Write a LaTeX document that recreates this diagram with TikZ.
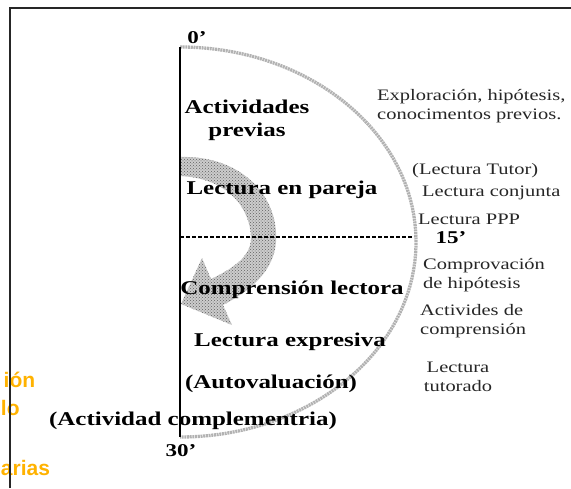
\documentclass[tikz,border=0pt]{standalone}
\usepackage{fontspec}
\setmainfont{Liberation Serif}[FakeStretch=1.28]
\newfontfamily\orfont{Liberation Sans}
\usetikzlibrary{patterns}
\definecolor{orng}{RGB}{255,178,0}
\begin{document}
\begin{tikzpicture}[x=1pt,y=-1pt,
  big/.style={font=\fontsize{19.5}{23}\selectfont\bfseries, inner sep=0pt, align=center},
  tick/.style={font=\fontsize{18}{20}\selectfont\bfseries, inner sep=0pt},
  note/.style={font=\fontsize{16}{18.5}\selectfont, inner sep=0pt, align=left, text=black!85},
  orng/.style={font=\orfont\fontsize{21}{24}\selectfont\bfseries, text=orng, inner sep=0pt, anchor=base west},
  arcline/.style={draw=gray!60, line width=3.3pt, dash pattern=on 2pt off 0.7pt},
  axis/.style={line width=1.6pt, black},
  frame/.style={line width=1.2pt, black!85}]
\useasboundingbox (0,0) rectangle (571,488);
% orange cut-off text
\node[orng] (o1) at (3.5,387) {ión};
\node[orng] (o2) at (0.8,415) {lo};
\node[orng] (o3) at (0.8,475) {arias};
% frame
\coordinate (fbl) at (10,488);
\coordinate (ftl) at (10,8);
\coordinate (ftr) at (571,8);
\draw[frame] (fbl) -- (ftl) -- (ftr);
% key coordinates
\coordinate (top) at (180,47);
\coordinate (bot) at (180,437);
\coordinate (mid) at (180,237);
\coordinate (midR) at (414,237);
% big arc
\draw[arcline] (top) arc[start angle=90, end angle=-90, x radius=236pt, y radius=195pt];
% curved arrow
\path[preaction={fill=gray!40}, pattern=crosshatch dots, pattern color=gray!75!black]
  (180,157) .. controls (240,155) and (279,195) .. (276,242)
  .. controls (274,270) and (252,290) .. (223,305)
  -- (232,325) -- (181,304) -- (202,258) -- (211,279)
  .. controls (234,268) and (251,256) .. (251,238)
  .. controls (250,205) and (225,178) .. (180,176) -- cycle;
% dotted 15' line
\draw[line width=2.2pt, dash pattern=on 4pt off 2pt] (mid) -- (midR);
% axis
\draw[axis] (top) -- (bot);
% ticks
\node[tick] (t0) at (197,38) {0’};
\node[tick] (t15) at (451,238) {15’};
\node[tick] (t30) at (181,451) {30’};
% phase labels
\node[big] (p1) at (247,120) {Actividades\\previas};
\node[big] (p2) at (282,190) {Lectura en pareja};
\node[big] (p3) at (292,290) {Comprensión lectora};
\node[big] (p4) at (290,342) {Lectura expresiva};
\node[big] (p5) at (271,384) {(Autovaluación)};
\node[big] (p6) at (193,421) {(Actividad complementria)};
% notes
\node[note, anchor=west] (n1) at (377,106) {Exploración, hipótesis,\\conocimentos previos.};
\node[note, anchor=west] (n2) at (412,171) {(Lectura Tutor)};
\node[note, anchor=west] (n3) at (422,193) {Lectura conjunta};
\node[note, anchor=west] (n4) at (418,219) {Lectura PPP};
\node[note, anchor=west] (n5) at (423,275) {Comprovación\\de hipótesis};
\node[note, anchor=west] (n6) at (420,321) {Activides de\\comprensión};
\node[note, align=center] (n7) at (458,377) {Lectura\\tutorado};
\end{tikzpicture}
\end{document}
